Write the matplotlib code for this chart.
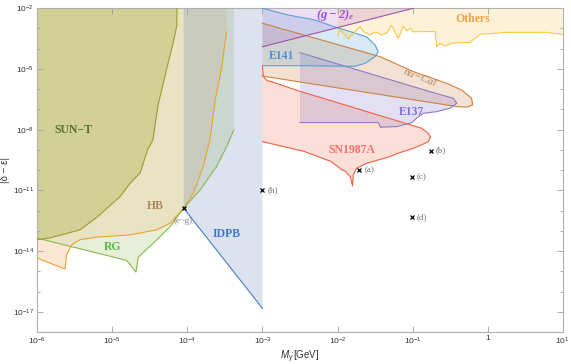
import numpy as np
import matplotlib
matplotlib.use("Agg")
import matplotlib.pyplot as plt

plt.rcParams['font.family'] = ['Liberation Sans', 'DejaVu Sans']
plt.rcParams['mathtext.fontset'] = 'custom'
plt.rcParams['mathtext.rm'] = 'Liberation Sans'
plt.rcParams['mathtext.it'] = 'Liberation Sans:italic'
plt.rcParams['mathtext.bf'] = 'Liberation Serif:italic:bold'

# boundaries, as log10(M) and log10|delta - eps|
sunt_lm = [-4.14, -4.14, -4.19, -4.27, -4.39, -4.44, -4.46, -4.53, -4.63, -4.76, -4.90, -5.20, -5.43, -5.83, -6.0]
sunt_lc = [-2.0, -2.83, -3.72, -4.90, -6.78, -8.01, -8.51, -9.00, -10.14, -10.63, -11.32, -12.31, -12.95, -13.35, -13.44]

hb_lm = [-6.0, -5.63, -5.61, -5.54, -5.43, -5.21, -4.76, -4.41, -4.23, -4.05, -3.92, -3.79, -3.70, -3.63, -3.54, -3.48]
hb_lc = [-14.35, -14.89, -14.19, -13.69, -13.44, -13.31, -13.20, -12.95, -12.62, -11.88, -11.14, -9.82, -8.51, -6.53, -4.89, -3.16]

rg_lm = [-6.0, -4.81, -4.685, -4.654, -4.455, -4.23, -4.05, -3.83, -3.61, -3.477, -3.38]
rg_lc = [-13.36, -14.46, -15.04, -14.30, -13.61, -12.79, -11.88, -10.98, -9.82, -8.84, -8.01]

idpb_lm = [-4.05, -3.0]
idpb_lc = [-11.88, -16.83]

g2_lm = [-3.0, -0.99]
g2_lc = [-3.90, -2.0]

others_lm = [-2.0, -1.967, -1.914, -1.857, -1.78, -1.70, -1.65, -1.57, -1.49, -1.42, -1.345, -1.28, -1.19, -1.124,
             -1.08, -1.025, -0.99, -0.70, -0.679, -0.635, -0.568, -0.479, -0.235, -0.10, 0.254, 0.787, 0.986, 1.0]
others_lc = [-3.37, -3.07, -3.27, -3.52, -3.22, -2.91, -3.17, -3.32, -3.17, -3.32, -3.22, -2.85, -3.49, -2.88,
             -3.11, -2.99, -3.16, -3.15, -3.90, -3.73, -3.86, -3.73, -3.68, -3.29, -3.19, -3.19, -3.29, -3.29]

e141_lm = [-3.0, -2.66, -2.30, -2.04, -1.77, -1.61, -1.50, -1.457, -1.50, -1.63, -1.77, -2.43, -3.0]
e141_lc = [-2.0, -2.33, -2.58, -2.92, -3.22, -3.42, -3.81, -4.15, -4.39, -4.72, -4.87, -4.84, -4.84]

nucal_lm = [-3.0, -1.434, -0.99, -0.546, -0.346, -0.213, -0.20, -0.28, -0.41, -3.0]
nucal_lc = [-2.74, -4.39, -5.13, -5.71, -6.04, -6.45, -6.78, -6.89, -6.86, -5.35]

e137_lm = [-2.50, -1.434, -0.768, -0.458, -0.41, -0.50, -0.68, -0.857, -0.945, -1.01, -1.21, -1.43, -1.457, -2.50]
e137_lc = [-4.195, -5.38, -6.12, -6.45, -6.69, -6.94, -7.11, -7.19, -7.43, -7.65, -7.85, -7.88, -7.65, -7.65]

sn_lm = [-3.0, -2.99, -2.94, -2.87, -2.52, -1.81, -0.879, -0.79, -0.76, -0.79, -0.879, -0.99, -1.19, -1.30,
         -1.61, -1.745, -1.79, -1.80, -1.83, -1.90, -1.94, -2.08, -2.44, -3.0]
sn_lc = [-4.85, -5.35, -5.57, -5.64, -6.08, -6.88, -7.93, -8.18, -8.36, -8.59, -8.75, -8.92, -9.16, -9.33,
         -9.66, -9.90, -10.23, -10.78, -10.32, -10.04, -9.99, -9.58, -9.08, -8.59]

# benchmark points
pt_names = ['(a)', '(b)', '(c)', '(d)', '(h)']
pt_m = [0.0195, 0.175, 0.097, 0.099, 1.0e-3]
pt_c = [1.0e-10, 9.3e-10, 4.6e-11, 5.0e-13, 1.0e-11]
eg_m, eg_c = 8.9e-5, 1.32e-12

xtick_pow = [-6, -5, -4, -3, -2, -1, 0, 1]
xtick_lab = [r'$10^{-6}$', r'$10^{-5}$', r'$10^{-4}$', r'$10^{-3}$', r'$10^{-2}$', r'$10^{-1}$', '1', r'$10^{1}$']
ytick_pow = [-2, -5, -8, -11, -14, -17]

fig = plt.figure(figsize=(5.71, 3.64), dpi=100)
ax = fig.add_axes([0.0653, 0.0879, 0.9201, 0.8894])
ax.set_xscale('log')
ax.set_yscale('log')


def region(lm, lc, close_m, close_c, face, alpha, edge, lw=0.8):
    pm = 10.0 ** np.array(list(lm) + close_m)
    pc = 10.0 ** np.array(list(lc) + close_c)
    ax.fill(pm, pc, facecolor=face, alpha=alpha, edgecolor='none', zorder=1)
    ax.plot(10.0 ** np.array(lm), 10.0 ** np.array(lc), color=edge, lw=lw, zorder=3)


region(hb_lm, hb_lc, [-3.48, -6.0], [-2.0, -2.0], '#f5a050', 0.25, '#f0a030')
region(rg_lm, rg_lc, [-3.38, -6.0], [-2.0, -2.0], '#d3e1b5', 0.5, '#8cb84c')
region(idpb_lm, idpb_lc, [-3.0, -4.05], [-2.0, -2.0], '#4a6ea8', 0.19, '#4a7ec0')
region(sunt_lm, sunt_lc, [-6.0], [-2.0], '#a4a72b', 0.3, '#9c9c2c')
region(sn_lm, sn_lc, [], [], '#f56e50', 0.22, '#f06040')
region(nucal_lm, nucal_lc, [], [], '#d28c50', 0.25, '#d08040')
region(e137_lm, e137_lc, [], [], '#7864c8', 0.2, '#8c7cc8')
region(e141_lm, e141_lc, [], [], '#50a0d2', 0.22, '#5aa0d8')
region(others_lm, others_lc, [1.0, -2.0], [-2.0, -2.0], '#fac850', 0.22, '#f8c840')
region(g2_lm, g2_lc, [-3.0], [-2.0], '#a050c8', 0.18, '#a050b0')

# region labels
lab = dict(family=['Liberation Serif', 'DejaVu Serif'], fontweight='bold', fontsize=8.5,
           ha='center', va='center', zorder=5)
ax.text(3.0e-6, 1.0e-8, 'SUN\u2212T', color='#5a7030', **lab)
ax.text(3.7e-5, 1.7e-12, 'HB', color='#b08a60', **lab)
ax.text(1.0e-5, 1.6e-14, 'RG', color='#5cb84c', **lab)
ax.text(3.3e-4, 7.0e-14, 'IDPB', color='#3b78c8', **lab)
ax.text(1.55e-2, 1.0e-9, 'SN1987A', color='#f07070', **lab)
ax.text(9.8e-2, 7.2e-8, 'E137', color='#7b6fe0', **lab)
ax.text(1.8e-3, 4.4e-5, 'E141', color='#4a90d9', **lab)
ax.text(0.64, 3.0e-3, 'Others', color='#f5a04a', **lab)
ax.text(9.3e-3, 4.7e-3, r'$\mathbf{(g-2)_e}$', color='#9b4fe0', fontsize=9,
        ha='center', va='center', zorder=5)
ax.text(0.125, 3.6e-6, 'nu\u2212Cal', color='#b4875a', family=['Liberation Serif', 'DejaVu Serif'],
        style='italic', fontsize=8, rotation=-21, ha='center', va='center', zorder=5)

# benchmark points
ax.plot(pt_m + [eg_m], pt_c + [eg_c], ls='none', marker='x', ms=2.6, mew=0.9, color='black', zorder=6)
for n, m, c in zip(pt_names, pt_m, pt_c):
    ax.annotate(n, (m, c), xytext=(3.5, 0), textcoords='offset points', ha='left', va='center',
                fontsize=6.5, color='#707070', family=['Liberation Serif', 'DejaVu Serif'])
ax.annotate('(e~g)', (eg_m, eg_c), xytext=(0, -9), textcoords='offset points', ha='center', va='center',
            fontsize=6.5, color='#808080', family=['Liberation Serif', 'DejaVu Serif'])

ax.set_xlim(1e-6, 10)
ax.set_ylim(1e-18, 1e-2)
ax.set_xticks([10.0 ** p for p in xtick_pow])
ax.set_xticklabels(xtick_lab)
ax.xaxis.set_minor_locator(matplotlib.ticker.NullLocator())
ax.set_yticks([10.0 ** p for p in ytick_pow])
ax.set_yticklabels([r'$10^{%d}$' % p for p in ytick_pow])
ax.set_yticks([10.0 ** p for p in range(-18, -1)], minor=True)
ax.yaxis.set_minor_formatter(matplotlib.ticker.NullFormatter())
ax.tick_params(which='both', direction='in', top=True, right=True, labelsize=6, pad=2.5,
               color='#a0a0a0', labelcolor='#303030', width=0.6)
ax.tick_params(which='major', length=4)
ax.tick_params(which='minor', length=2.5)
for s in ax.spines.values():
    s.set_color('#b0b0b0')
    s.set_linewidth(0.8)

ax.set_xlabel(r"$M_{\gamma'}$[GeV]", fontsize=7, labelpad=1, color='#303030')
ax.set_ylabel('|\u03b4 \u2212 \u03b5|', fontsize=7, labelpad=2, color='#303030')

fig.savefig('out.png', dpi=100)
